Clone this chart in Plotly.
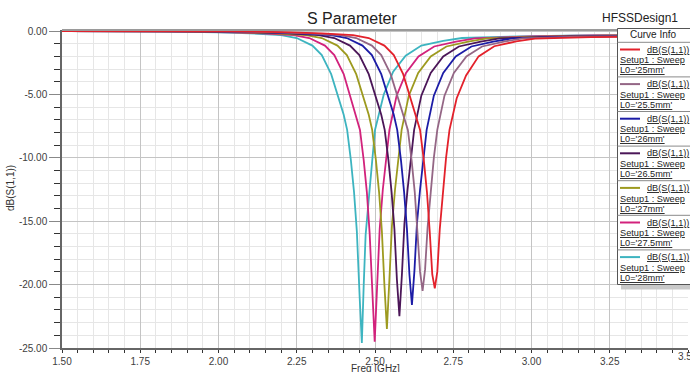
import plotly.graph_objects as go

# ---- S11 sweep results (frequency in GHz, return loss in dB) for each patch length L0 ----
freq_25 = [1.50, 2.03, 2.23, 2.33, 2.43, 2.48, 2.53, 2.56, 2.59, 2.61, 2.63, 2.644, 2.656, 2.666, 2.675, 2.683,
           2.691, 2.699, 2.707, 2.717, 2.727, 2.738, 2.761, 2.791, 2.831, 2.881, 2.951, 3.011, 3.19, 3.39, 3.50]
s11_25 = [0.00, -0.02, -0.10, -0.18, -0.33, -0.55, -1.15, -1.90, -3.40, -5.10, -6.60, -7.80, -10.2, -12.7, -15.9, -19.2,
          -20.3, -19.0, -15.6, -12.5, -10.0, -7.8, -5.3, -3.5, -2.0, -1.20, -0.82, -0.60, -0.48, -0.45, -0.45]

freq_255 = [1.50, 1.99, 2.19, 2.29, 2.39, 2.44, 2.49, 2.52, 2.55, 2.57, 2.59, 2.605, 2.617, 2.627, 2.636, 2.644,
            2.652, 2.660, 2.668, 2.678, 2.688, 2.699, 2.722, 2.752, 2.792, 2.842, 2.912, 2.972, 3.15, 3.35, 3.50]
s11_255 = [0.00, -0.02, -0.10, -0.18, -0.33, -0.55, -1.15, -1.90, -3.40, -5.10, -6.60, -7.80, -10.2, -12.7, -15.8, -19.0,
           -20.5, -18.8, -15.5, -12.5, -10.0, -7.8, -5.1, -3.3, -2.0, -1.22, -0.83, -0.58, -0.45, -0.40, -0.40]

freq_26 = [1.50, 1.96, 2.16, 2.26, 2.36, 2.41, 2.46, 2.49, 2.52, 2.54, 2.56, 2.571, 2.583, 2.593, 2.602, 2.610,
           2.618, 2.626, 2.634, 2.644, 2.654, 2.665, 2.688, 2.718, 2.758, 2.808, 2.878, 2.938, 3.12, 3.32, 3.50]
s11_26 = [0.00, -0.02, -0.10, -0.18, -0.33, -0.55, -1.15, -1.90, -3.40, -5.10, -6.60, -7.80, -10.2, -12.7, -15.6, -19.2,
          -21.6, -18.9, -15.2, -12.5, -10.0, -7.8, -5.1, -3.3, -2.0, -1.22, -0.83, -0.58, -0.44, -0.38, -0.36]

freq_265 = [1.50, 1.92, 2.12, 2.22, 2.32, 2.37, 2.42, 2.45, 2.48, 2.50, 2.52, 2.531, 2.543, 2.553, 2.562, 2.570,
            2.578, 2.586, 2.594, 2.604, 2.614, 2.625, 2.648, 2.678, 2.718, 2.768, 2.838, 2.898, 3.08, 3.28, 3.50]
s11_265 = [0.00, -0.02, -0.10, -0.18, -0.33, -0.55, -1.15, -1.90, -3.40, -5.10, -6.60, -7.80, -10.2, -12.7, -15.6, -19.6,
           -22.5, -19.2, -15.2, -12.5, -10.0, -7.8, -5.1, -3.3, -2.0, -1.22, -0.83, -0.58, -0.44, -0.37, -0.34]

freq_27 = [1.50, 1.88, 2.08, 2.18, 2.28, 2.33, 2.38, 2.41, 2.44, 2.46, 2.48, 2.491, 2.503, 2.513, 2.522, 2.530,
           2.538, 2.546, 2.554, 2.564, 2.574, 2.585, 2.608, 2.638, 2.678, 2.728, 2.798, 2.858, 3.04, 3.24, 3.50]
s11_27 = [0.00, -0.02, -0.10, -0.18, -0.33, -0.55, -1.15, -1.90, -3.40, -5.10, -6.60, -7.80, -10.2, -12.7, -15.8, -20.0,
          -23.5, -19.6, -15.4, -12.5, -10.0, -7.8, -5.1, -3.3, -2.0, -1.22, -0.83, -0.58, -0.44, -0.36, -0.32]

freq_275 = [1.50, 1.84, 2.04, 2.14, 2.24, 2.29, 2.34, 2.37, 2.40, 2.42, 2.44, 2.452, 2.464, 2.474, 2.483, 2.491,
            2.499, 2.507, 2.515, 2.525, 2.535, 2.546, 2.569, 2.599, 2.639, 2.689, 2.759, 2.819, 3.00, 3.20, 3.50]
s11_275 = [0.00, -0.02, -0.10, -0.18, -0.33, -0.55, -1.15, -1.90, -3.40, -5.10, -6.60, -7.80, -10.2, -12.7, -16.0, -20.5,
           -24.5, -20.0, -15.6, -12.5, -10.0, -7.8, -5.1, -3.3, -2.0, -1.22, -0.83, -0.58, -0.43, -0.35, -0.30]

freq_28 = [1.50, 1.80, 2.00, 2.10, 2.20, 2.25, 2.30, 2.33, 2.36, 2.38, 2.40, 2.411, 2.423, 2.433, 2.442, 2.451,
           2.458, 2.464, 2.470, 2.481, 2.492, 2.500, 2.528, 2.558, 2.598, 2.648, 2.718, 2.778, 2.96, 3.16, 3.50]
s11_28 = [0.00, -0.02, -0.10, -0.18, -0.33, -0.55, -1.15, -1.90, -3.40, -5.10, -6.60, -7.80, -10.2, -12.7, -15.8, -21.0,
          -24.6, -20.0, -16.1, -13.0, -9.8, -7.8, -5.0, -3.2, -1.95, -1.15, -0.78, -0.55, -0.42, -0.34, -0.28]

lengths = ["25mm", "25.5mm", "26mm", "26.5mm", "27mm", "27.5mm", "28mm"]
freqs = [freq_25, freq_255, freq_26, freq_265, freq_27, freq_275, freq_28]
s11 = [s11_25, s11_255, s11_26, s11_265, s11_27, s11_275, s11_28]
colors = ["#e3212b", "#946685", "#1c1ca6", "#4b1658", "#9d9a1f", "#d2227c", "#3db4c0"]

x_ticks = [1.50, 1.75, 2.00, 2.25, 2.50, 2.75, 3.00, 3.25, 3.50]
x_labels = ["1.50", "1.75", "2.00", "2.25", "2.50", "2.75", "3.00", "3.25", "3.50"]
y_ticks = [0, -5, -10, -15, -20, -25]
y_labels = ["0.00", "-5.00", "-10.00", "-15.00", "-20.00", "-25.00"]

# ---- page geometry (pixels) ----
W, H = 690, 372
ML, MR, MT, MB = 62, 2, 30, 24
FONT = "Liberation Sans, Arial, sans-serif"


def px(x):
    return (x - ML) / (W - ML - MR)


def py(y):
    return (H - MB - y) / (H - MT - MB)


fig = go.Figure()

# draw the first sweep last so it sits on top
for i in reversed(range(len(lengths))):
    fig.add_trace(go.Scatter(
        x=freqs[i], y=s11[i], mode="lines",
        name="dB(S(1,1)) Setup1 : Sweep L0='" + lengths[i] + "'",
        line=dict(color=colors[i], width=1.8),
        showlegend=False,
    ))

fig.update_xaxes(
    range=[1.5, 3.5], tickmode="array", tickvals=x_ticks, ticktext=x_labels,
    showgrid=True, gridcolor="#c4c4c4", gridwidth=1,
    showline=True, linecolor="#666666", linewidth=1.5,
    ticks="outside", ticklen=3, tickcolor="#333333",
    tickfont=dict(family=FONT, size=10, color="#404040"),
    zeroline=False,
    minor=dict(dtick=0.05, tick0=1.5, showgrid=True, gridcolor="#e6e6e6", gridwidth=1,
               ticks="outside", ticklen=3, tickcolor="#333333"),
)
fig.update_yaxes(
    range=[-25, 0.08], tickmode="array", tickvals=y_ticks, ticktext=y_labels,
    showgrid=True, gridcolor="#c4c4c4", gridwidth=1,
    showline=True, linecolor="#666666", linewidth=1.5,
    ticks="outside", ticklen=11, tickcolor="#888888",
    tickfont=dict(family=FONT, size=10, color="#404040"),
    zeroline=False,
    minor=dict(dtick=1, tick0=0, showgrid=True, gridcolor="#e6e6e6", gridwidth=1,
               ticks="outside", ticklen=6, tickcolor="#333333"),
)

shapes = []
annotations = []


def label(text, x, y, size, anchor="left", color="#222222", angle=0):
    annotations.append(dict(text=text, xref="paper", yref="paper", x=px(x), y=py(y),
                            xanchor=anchor, yanchor="middle", showarrow=False,
                            borderpad=0, textangle=angle,
                            font=dict(family=FONT, size=size, color=color)))


# top frame line
shapes.append(dict(type="line", xref="paper", yref="paper", x0=0, x1=1.01, y0=1, y1=1,
                   line=dict(color="#9a9a9a", width=2)))

# titles
label("S Parameter", 352, 18, 16, anchor="center")
label("HFSSDesign1", 601, 18, 12)
label("Freq [GHz]", 375, 368.5, 10, anchor="center", color="#333333")
label("dB(S(1,1))", 10, 188, 10, anchor="center", color="#333333", angle=-90)
# last tick label runs off the right edge of the page
label(x_labels[-1], 688, 356, 10, anchor="center", color="#404040")

# ---- "Curve Info" box ----
BOX_L, BOX_T, PITCH, HEAD = 617.5, 28.5, 34.6, 42.3
box_bottom = HEAD + PITCH * len(lengths)
shapes.append(dict(type="rect", xref="paper", yref="paper",
                   x0=px(621), x1=px(700), y0=py(box_bottom + 5), y1=py(box_bottom),
                   fillcolor="#c9c9c9", line=dict(width=0)))
shapes.append(dict(type="rect", xref="paper", yref="paper",
                   x0=px(BOX_L), x1=px(700), y0=py(box_bottom), y1=py(BOX_T),
                   fillcolor="white", line=dict(color="#555555", width=1)))
shapes.append(dict(type="line", xref="paper", yref="paper",
                   x0=px(BOX_L), x1=px(700), y0=py(HEAD), y1=py(HEAD),
                   line=dict(color="#8a8a8a", width=1)))
label("Curve Info", 653, 34.5, 10, anchor="center")

for k, (lab, col) in enumerate(zip(lengths, colors)):
    base = HEAD + PITCH * k
    shapes.append(dict(type="line", xref="paper", yref="paper",
                       x0=px(620), x1=px(640), y0=py(base + 7.2), y1=py(base + 7.2),
                       line=dict(color=col, width=2)))
    label("<u>dB(S(1,1))</u>", 646, base + 7.2, 9.2)
    label("<u>Setup1 : Sweep</u>", 619, base + 17.9, 9.2)
    label("<u>L0='" + lab + "'</u>", 619, base + 27.8, 9.2)
    if k < len(lengths) - 1:
        shapes.append(dict(type="line", xref="paper", yref="paper",
                           x0=px(BOX_L), x1=px(700), y0=py(base + PITCH), y1=py(base + PITCH),
                           line=dict(color="#8a8a8a", width=1)))

fig.update_layout(
    width=W, height=H,
    margin=dict(l=ML, r=MR, t=MT, b=MB, pad=0),
    paper_bgcolor="white", plot_bgcolor="white",
    shapes=shapes, annotations=annotations,
    showlegend=False,
)

fig.write_html("out.html")
